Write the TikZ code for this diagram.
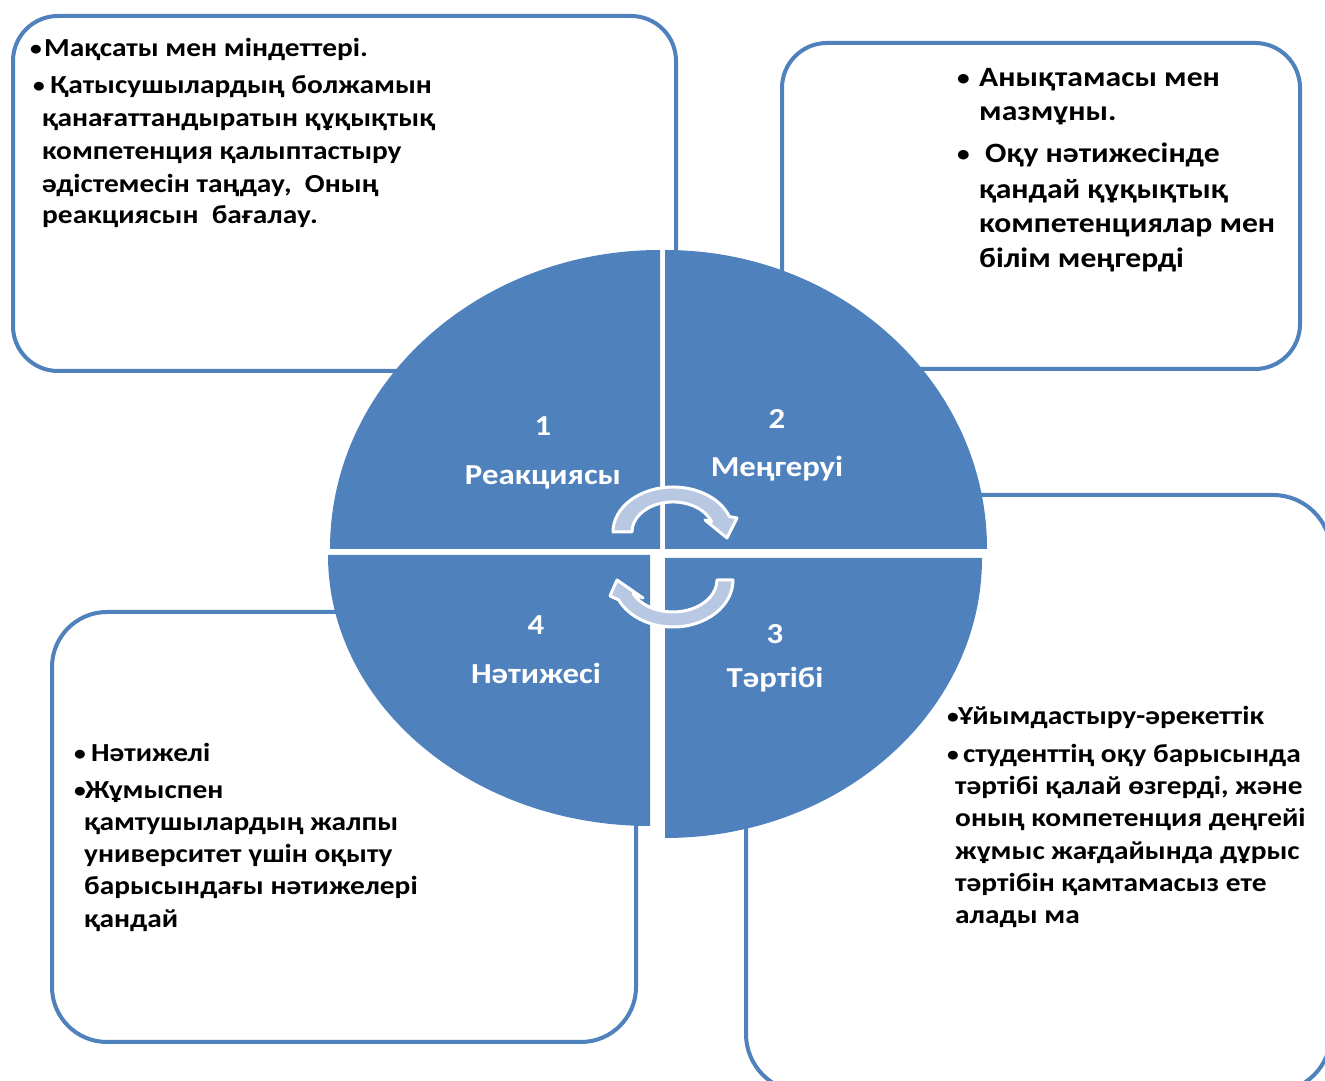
\documentclass[tikz,border=0pt]{standalone}
\usepackage{graphicx}
\usepackage{fontspec}
\setmainfont{Carlito}[FakeStretch=1.13]
\definecolor{qblue}{RGB}{79,129,189}
\definecolor{arrfill}{RGB}{185,200,226}
\tikzset{
  boxframe/.style={draw=qblue, line width=4pt, fill=white},
  quad/.style={fill=qblue, draw=none},
  gapfill/.style={fill=white, draw=none},
  txta/.style={anchor=base west, inner sep=0pt, font=\fontsize{26}{30}\selectfont\bfseries},
  txtb/.style={anchor=base west, inner sep=0pt, font=\fontsize{28}{32}\selectfont\bfseries},
  lbl/.style={anchor=base, inner sep=0pt, text=white, font=\fontsize{29}{30}\selectfont\bfseries},
  cyc/.style={fill=arrfill, draw=white, line width=3pt, line join=round},
}
\newcommand{\bul}[1]{\makebox[#1pt][l]{\raisebox{1.5pt}{\scalebox{0.8}{•}}}}
\begin{document}
\begin{tikzpicture}[x=1pt,y=1pt]
\useasboundingbox (0,0) rectangle (1325,1081);
\clip (0,0) rectangle (1325,1081);
\fill[white] (0,0) rectangle (1325,1081);

% boxes
\draw[boxframe, rounded corners=45pt] (13,710) rectangle (676,1065);
\draw[boxframe, rounded corners=45pt] (782,712) rectangle (1300,1038);
\draw[boxframe, rounded corners=58pt] (746,-11) rectangle (1331,586);
\draw[boxframe, rounded corners=55pt] (52,39) rectangle (636,469);

% gaps between quadrants
\fill[gapfill] (650,521) rectangle (665,833);
\fill[gapfill] (326,523) rectangle (989,532);

% quadrants
\fill[quad] (660,532) -- (330,532) arc[start angle=180, end angle=90, x radius=330, y radius=299] -- cycle;
\fill[quad] (665,532) -- (665,831) arc[start angle=90, end angle=0, x radius=322, y radius=299] -- cycle;
\fill[quad] (665,523) -- (982,523) arc[start angle=0, end angle=-90, x radius=317, y radius=280] -- cycle;
\fill[quad] (650,526) -- (650,255) arc[start angle=270, end angle=180, x radius=322, y radius=271] -- cycle;

% cycle arrows
\draw[cyc] (613,549) arc[start angle=180, end angle=20, x radius=60, y radius=45]
  -- (737,563) -- (727,543) -- (705,561) -- (711.5,559.3)
  arc[start angle=20, end angle=180, x radius=41, y radius=30] -- cycle;
\draw[cyc] (733,501) arc[start angle=0, end angle=-155, x radius=60, y radius=47]
  -- (610,485) -- (617,501) -- (643,483) -- (633.1,487.5)
  arc[start angle=-155, end angle=0, x radius=44, y radius=32] -- cycle;

% quadrant labels
\node[lbl] (n1) at (543,645) {1};
\node[lbl] (t1) at (543,596) {Реакциясы};
\node[lbl] (n2) at (777,652) {2};
\node[lbl] (t2) at (777,604) {Меңгеруі};
\node[lbl] (n4) at (536,446) {4};
\node[lbl] (t4) at (536,397) {Нәтижесі};
\node[lbl] (n3) at (775,437) {3};
\node[lbl] (t3) at (775,393) {Тәртібі};

% box 1 text
\node[txta] (a1) at (30,1024) {\bul{14}Мақсаты мен міндеттері.};
\node[txta] (a2) at (33,987) {\bul{17}Қатысушылардың болжамын};
\node[txta] (a3) at (42,954) {қанағаттандыратын құқықтық};
\node[txta] (a4) at (42,921) {компетенция қалыптастыру};
\node[txta] (a5) at (42,888) {әдістемесін таңдау,\ \ Оның};
\node[txta] (a6) at (42,857) {реакциясын\ \ бағалау.};

% box 2 text
\node[txtb] (b1) at (957,994) {\bul{22}Анықтамасы мен};
\node[txtb] (b2) at (979,960) {мазмұны.};
\node[txtb] (b3) at (957,918) {\bul{28}Оқу нәтижесінде};
\node[txtb] (b4) at (979,882) {қандай құқықтық};
\node[txtb] (b5) at (979,848) {компетенциялар мен};
\node[txtb] (b6) at (979,813) {білім меңгерді};

% box 4 text
\node[txta] (d1) at (74,319) {\bul{17}Нәтижелі};
\node[txta] (d2) at (74,282) {\bul{11}Жұмыспен};
\node[txta] (d3) at (84,250) {қамтушылардың жалпы};
\node[txta] (d4) at (84,218) {университет үшін оқыту};
\node[txta] (d5) at (84,186) {барысындағы нәтижелері};
\node[txta] (d6) at (84,153) {қандай};

% box 3 text
\node[txta] (c1) at (947,356) {\bul{11}Ұйымдастыру-әрекеттік};
\node[txta] (c2) at (947,318) {\bul{16}студенттің оқу барысында};
\node[txta] (c3) at (955,286) {тәртібі қалай өзгерді, және};
\node[txta] (c4) at (955,254) {оның компетенция деңгейі};
\node[txta] (c5) at (955,221) {жұмыс жағдайында дұрыс};
\node[txta] (c6) at (955,189) {тәртібін қамтамасыз ете};
\node[txta] (c7) at (955,157) {алады ма};
\end{tikzpicture}
\end{document}
